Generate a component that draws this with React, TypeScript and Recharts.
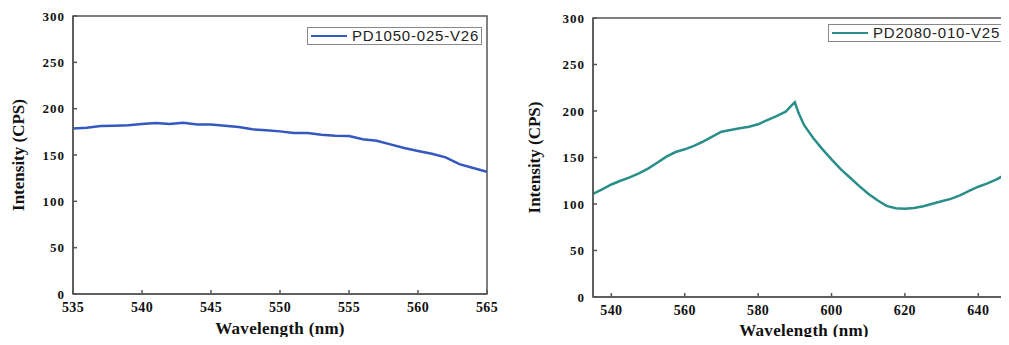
import { LineChart, Line, XAxis, YAxis, Legend, ReferenceArea, Label } from "recharts"

// PD1050-025-V26, 1 nm steps
const leftWavelength = [
  535, 536, 537, 538, 539, 540, 541, 542, 543, 544, 545, 546, 547, 548, 549, 550,
  551, 552, 553, 554, 555, 556, 557, 558, 559, 560, 561, 562, 563, 564, 565,
]
const leftIntensity = [
  178.7, 179.4, 181.2, 181.6, 182, 183.4, 184.5, 183.4, 184.8, 183, 183, 181.6, 180.2, 177.7, 176.6, 175.5,
  173.7, 173.7, 171.9, 170.8, 170.4, 166.9, 165.4, 161.5, 157.5, 154.3, 151.4, 147.5, 140.2, 135.9, 131.9,
]

// PD2080-010-V25
const rightWavelength = [
  535, 537.5, 540, 542.5, 545, 547.5, 550, 552.5, 555, 557.5, 560, 562.5, 565, 567.5, 570, 572.5,
  575, 577.5, 580, 582.5, 585, 587.5, 589, 590, 591, 592.5, 595, 597.5, 600, 602.5, 605, 607.5,
  610, 612.5, 615, 617.5, 620, 622.5, 625, 627.5, 630, 632.5, 635, 637.5, 640, 642.5, 645, 647.5, 650,
]
const rightIntensity = [
  110.8, 115.8, 121, 125, 128.7, 133, 138, 144.4, 150.9, 155.9, 158.8, 162.4, 167, 172.4, 177.8, 179.6,
  181.4, 183.1, 185.7, 190.3, 194.6, 199.2, 205.4, 209.4, 198, 185, 171, 159, 148, 137.5, 128.5, 119.5,
  111, 104, 98, 95.5, 95, 95.6, 97.5, 100.3, 103, 105.5, 109.3, 114, 118.6, 122.2, 126.5, 131.9, 137,
]

const leftTicks = [535, 540, 545, 550, 555, 560, 565]
const rightTicks = [540, 560, 580, 600, 620, 640]
const yTicks = [0, 50, 100, 150, 200, 250, 300]

const serif = '"Liberation Serif", "Times New Roman", serif'
const axisColor = "#555"

type PanelProps = {
  name: string
  color: string
  wavelength: number[]
  intensity: number[]
  xDomain: [number, number]
  xTicks: number[]
  width: number
  top: number
  xAxisHeight: number
  yAxisWidth: number
  rightMargin: number
  yLabelOffset: number
  xLabelOffset: number
  legendPos: { top: number; left: number }
}

function LegendBox({ payload }: any) {
  const item = payload && payload[0]
  if (!item) return null
  return (
    <div
      style={{
        display: "flex",
        alignItems: "center",
        border: "1px solid #888",
        padding: "0 2px 0 3px",
        background: "#fff",
        fontFamily: '"Liberation Sans", Arial, sans-serif',
        fontSize: 15,
        letterSpacing: 0.8,
        lineHeight: "16px",
        color: "#222",
        whiteSpace: "nowrap",
      }}
    >
      <span
        style={{
          display: "inline-block",
          width: 36,
          height: 0,
          borderTop: `2.5px solid ${item.color}`,
          marginRight: 5,
        }}
      />
      {item.value}
    </div>
  )
}

function SpectrumPanel(p: PanelProps) {
  const data = p.wavelength.map((wl, i) => ({ wl, v: p.intensity[i] }))
  return (
    <LineChart
      width={p.width}
      height={345}
      data={data}
      margin={{ top: p.top, right: p.rightMargin, bottom: 0, left: 0 }}
    >
      <XAxis
        dataKey="wl"
        type="number"
        domain={p.xDomain}
        ticks={p.xTicks}
        allowDataOverflow
        height={p.xAxisHeight}
        axisLine={{ stroke: axisColor, strokeWidth: 1.5 }}
        tickLine={{ stroke: axisColor, strokeWidth: 1.5 }}
        tickSize={-4}
        tickMargin={12}
        tick={{ fill: "#111", fontSize: 14, fontWeight: 700, fontFamily: serif, letterSpacing: 0.4 }}
      >
        <Label
          value="Wavelength (nm)"
          position="insideBottom"
          offset={p.xLabelOffset}
          style={{ fill: "#111", fontSize: 17, fontWeight: 700, fontFamily: serif, letterSpacing: 0.3 }}
        />
      </XAxis>
      <YAxis
        type="number"
        domain={[0, 300]}
        ticks={yTicks}
        width={p.yAxisWidth}
        axisLine={{ stroke: axisColor, strokeWidth: 1.5 }}
        tickLine={{ stroke: axisColor, strokeWidth: 1.5 }}
        tickSize={-4}
        tickMargin={12}
        tick={{ fill: "#111", fontSize: 13, fontWeight: 700, fontFamily: serif, letterSpacing: 1 }}
      >
        <Label
          value="Intensity (CPS)"
          angle={-90}
          position="insideLeft"
          offset={p.yLabelOffset}
          style={{ textAnchor: "middle", fill: "#111", fontSize: 17, fontWeight: 700, fontFamily: serif }}
        />
      </YAxis>
      <ReferenceArea
        x1={p.xDomain[0]}
        x2={p.xDomain[1]}
        y1={0}
        y2={300}
        fill="none"
        stroke={axisColor}
        strokeWidth={1.5}
        ifOverflow="visible"
      />
      <Legend
        layout="horizontal"
        verticalAlign="middle"
        align="center"
        content={<LegendBox />}
        wrapperStyle={{ top: p.legendPos.top, left: p.legendPos.left, width: "auto" }}
      />
      <Line
        type="linear"
        dataKey="v"
        name={p.name}
        stroke={p.color}
        strokeWidth={2.5}
        dot={false}
        isAnimationActive={false}
      />
    </LineChart>
  )
}

export default function App() {
  return (
    <div
      style={{
        position: "relative",
        width: 1009,
        height: 345,
        margin: -8,
        overflow: "hidden",
        background: "#fff",
      }}
    >
      <div style={{ position: "absolute", left: 0, top: 0 }}>
        <SpectrumPanel
          name="PD1050-025-V26"
          color="#3558c0"
          wavelength={leftWavelength}
          intensity={leftIntensity}
          xDomain={[535, 565]}
          xTicks={leftTicks}
          width={500}
          top={16}
          xAxisHeight={51}
          yAxisWidth={73}
          rightMargin={13}
          yLabelOffset={18}
          xLabelOffset={11}
          legendPos={{ top: 27, left: 307 }}
        />
      </div>
      <div style={{ position: "absolute", left: 510, top: 0 }}>
        <SpectrumPanel
          name="PD2080-010-V25"
          color="#2a8e8a"
          wavelength={rightWavelength}
          intensity={rightIntensity}
          xDomain={[535, 650]}
          xTicks={rightTicks}
          width={510}
          top={18}
          xAxisHeight={48}
          yAxisWidth={83}
          rightMargin={5}
          yLabelOffset={24}
          xLabelOffset={9}
          legendPos={{ top: 24, left: 318 }}
        />
      </div>
    </div>
  )
}
